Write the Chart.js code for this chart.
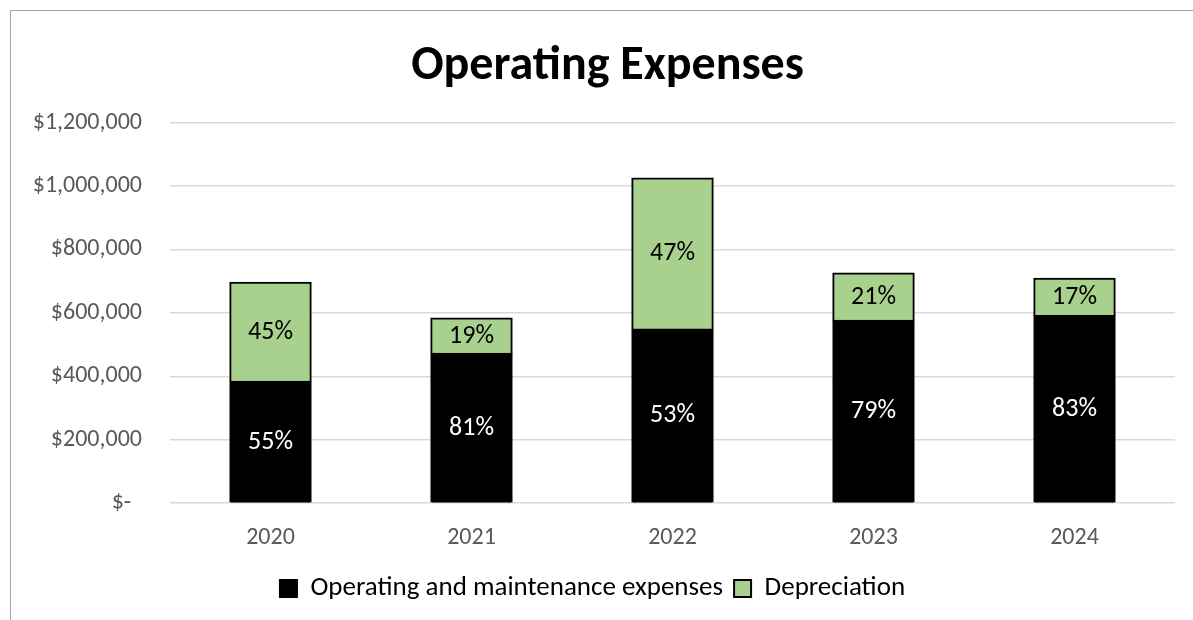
<!DOCTYPE html>
<html>
<head>
<meta charset="utf-8">
<script src="https://cdn.jsdelivr.net/npm/chart.js@4.4.1/dist/chart.umd.min.js"></script>
<style>
  html, body { margin: 0; padding: 0; background: #fff; overflow: hidden; width: 1193px; height: 620px; }
  #frame { position: absolute; left: 10px; top: 10px; width: 1200px; height: 620px; border-left: 1px solid #a6a6a6; border-top: 1px solid #a6a6a6; }
  #wrap { position: absolute; left: 10px; top: 10px; width: 1195px; height: 610px; }
</style>
</head>
<body>
<div id="frame"></div>
<div id="wrap"><canvas id="c" width="1195" height="610"></canvas></div>
<script>
const categories = ['2020', '2021', '2022', '2023', '2024'];
const operatingMaintenance = [383000, 471000, 548000, 575000, 590000];
const depreciation = [312000, 111000, 476000, 149000, 118000];
const operatingPctLabels = ['55%', '81%', '53%', '79%', '83%'];
const depreciationPctLabels = ['45%', '19%', '47%', '21%', '17%'];
const yTickMax = 1200000;
const yTickStep = 200000;

const FONT = 'Carlito, Calibri, Lato, sans-serif';

const pctLabelPlugin = {
  id: 'pctLabels',
  afterLayout(chart) {
    // center the title over the whole chart frame
    if (chart.titleBlock) {
      chart.titleBlock.left = 0;
      chart.titleBlock.right = chart.width;
    }
  },
  afterDatasetsDraw(chart) {
    const ctx = chart.ctx;
    ctx.save();
    ctx.font = '26px ' + FONT;
    ctx.textAlign = 'center';
    ctx.textBaseline = 'middle';
    chart.data.datasets.forEach((ds, di) => {
      const meta = chart.getDatasetMeta(di);
      meta.data.forEach((el, i) => {
        const y = (el.y + el.base) / 2;
        ctx.fillStyle = ds.labelColor;
        ctx.fillText(ds.pctLabels[i], el.x, y);
      });
    });
    ctx.restore();
  }
};

new Chart(document.getElementById('c'), {
  type: 'bar',
  data: {
    labels: categories,
    datasets: [
      {
        label: 'Operating and maintenance expenses',
        data: operatingMaintenance,
        backgroundColor: '#000000',
        borderColor: '#000000',
        borderWidth: 2,
        inflateAmount: 1,
        pctLabels: operatingPctLabels,
        labelColor: '#ffffff'
      },
      {
        label: 'Depreciation',
        data: depreciation,
        backgroundColor: '#a9d18e',
        borderColor: '#000000',
        borderWidth: 2,
        inflateAmount: 1,
        pctLabels: depreciationPctLabels,
        labelColor: '#000000'
      }
    ]
  },
  options: {
    responsive: false,
    animation: false,
    devicePixelRatio: 1,
    categoryPercentage: 1,
    barPercentage: 0.40,
    layout: { padding: { left: 0, right: 30, top: 0, bottom: 8 } },
    plugins: {
      title: {
        display: true,
        text: 'Operating Expenses',
        color: '#000000',
        font: { family: FONT, size: 48, weight: 'bold' },
        padding: { top: 28, bottom: 27 }
      },
      legend: {
        position: 'bottom',
        labels: {
          color: '#000000',
          font: { family: FONT, size: 27 },
          boxWidth: 17,
          boxHeight: 17,
          padding: 11
        }
      },
      tooltip: { enabled: false }
    },
    scales: {
      x: {
        stacked: true,
        grid: { display: false },
        border: { display: false },
        ticks: { color: '#595959', font: { family: FONT, size: 24 }, padding: 12 }
      },
      y: {
        stacked: true,
        min: 0,
        max: yTickMax,
        afterFit(scale) { scale.width = 160; },
        grid: { color: '#d9d9d9', lineWidth: 1.5, drawTicks: false },
        border: { display: false },
        ticks: {
          stepSize: yTickStep,
          color: '#595959',
          font: { family: FONT, size: 24 },
          padding: 28,
          callback(v) { return v === 0 ? '$-  ' : '$' + v.toLocaleString('en-US'); }
        }
      }
    }
  },
  plugins: [pctLabelPlugin]
});
</script>
</body>
</html>
